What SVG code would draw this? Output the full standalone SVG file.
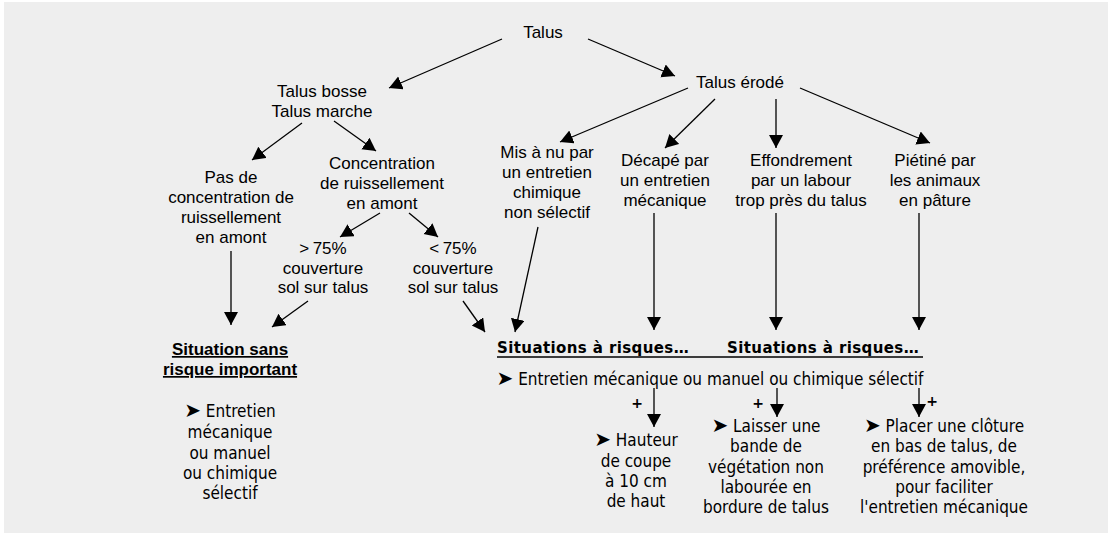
<svg xmlns="http://www.w3.org/2000/svg" width="1113" height="533" viewBox="0 0 1113 533">
<style>
.a{font-family:"Liberation Sans",Arial,sans-serif;font-size:17px;fill:#000;text-anchor:middle}
.ab{font-family:"Liberation Sans",Arial,sans-serif;font-size:17px;font-weight:bold;fill:#000;text-anchor:middle;text-decoration:underline}
.t{font-family:"DejaVu Sans",sans-serif;font-stretch:condensed;font-size:17px;fill:#000;text-anchor:middle}
.t .m{font-size:20px;font-stretch:normal}
.tb{font-family:"DejaVu Sans",sans-serif;font-size:15px;font-weight:bold;fill:#000;letter-spacing:0.4px}
.c line{stroke:#000;stroke-width:1.3;marker-end:url(#ah)}
</style>
<defs>
<marker id="ah" markerUnits="userSpaceOnUse" markerWidth="15" markerHeight="15" refX="13" refY="7" orient="auto">
<path d="M0,0 L13,7 L0,14 z" fill="#000"/>
</marker>
</defs>
<rect x="4" y="2" width="1104" height="531" fill="#eeeeee"/>
<g id="n-talus"><text class="a" x="543" y="38">Talus</text></g>
<g id="n-erode"><text class="a" x="740" y="88">Talus érodé</text></g>
<g id="n-bosse"><text class="a" x="322" y="97">Talus bosse</text><text class="a" x="322" y="117">Talus marche</text></g>
<g id="n-pas"><text class="a" x="231" y="183">Pas de</text><text class="a" x="231" y="203">concentration de</text><text class="a" x="231" y="223">ruissellement</text><text class="a" x="231" y="243">en amont</text></g>
<g id="n-conc"><text class="a" x="382" y="169">Concentration</text><text class="a" x="382" y="189">de ruissellement</text><text class="a" x="382" y="209">en amont</text></g>
<g id="n-sup"><text class="a" x="323" y="254">&gt;&#8201;75%</text><text class="a" x="323" y="274">couverture</text><text class="a" x="323" y="293">sol sur talus</text></g>
<g id="n-inf"><text class="a" x="453" y="254">&lt;&#8201;75%</text><text class="a" x="453" y="274">couverture</text><text class="a" x="453" y="293">sol sur talus</text></g>
<g id="n-mis"><text class="a" x="547" y="158">Mis à nu par</text><text class="a" x="547" y="178">un entretien</text><text class="a" x="547" y="198">chimique</text><text class="a" x="547" y="218">non sélectif</text></g>
<g id="n-decape"><text class="a" x="665" y="166">Décapé par</text><text class="a" x="665" y="186">un entretien</text><text class="a" x="665" y="206">mécanique</text></g>
<g id="n-effond"><text class="a" x="801" y="166">Effondrement</text><text class="a" x="801" y="186">par un labour</text><text class="a" x="801" y="206">trop près du talus</text></g>
<g id="n-pietine"><text class="a" x="935" y="166">Piétiné par</text><text class="a" x="935" y="186">les animaux</text><text class="a" x="935" y="206">en pâture</text></g>
<g id="n-sans"><text class="ab" x="230" y="355">Situation sans</text><text class="ab" x="230" y="375">risque important</text>
<text class="t" x="230" y="417"><tspan class="m">➤</tspan> Entretien</text><text class="t" x="230" y="438">mécanique</text><text class="t" x="230" y="459">ou manuel</text><text class="t" x="230" y="479">ou chimique</text><text class="t" x="230" y="499">sélectif</text></g>
<g id="n-risques"><text class="tb" x="497" y="353">Situations à risques…</text><text class="tb" x="727" y="353">Situations à risques…</text>
<line x1="497" y1="357" x2="923" y2="357" stroke="#000" stroke-width="1.3"/>
<text class="t" x="710" y="385" textLength="427" lengthAdjust="spacing"><tspan class="m">➤</tspan> Entretien mécanique ou manuel ou chimique sélectif</text></g>
<g id="n-hauteur"><text class="t" x="636" y="446"><tspan class="m">➤</tspan> Hauteur</text><text class="t" x="636" y="467">de coupe</text><text class="t" x="636" y="487">à 10 cm</text><text class="t" x="636" y="507">de haut</text></g>
<g id="n-laisser"><text class="t" x="766" y="432"><tspan class="m">➤</tspan> Laisser une</text><text class="t" x="766" y="452">bande de</text><text class="t" x="766" y="473">végétation non</text><text class="t" x="766" y="493">labourée en</text><text class="t" x="766" y="513">bordure de talus</text></g>
<g id="n-placer"><text class="t" x="944" y="432"><tspan class="m">➤</tspan> Placer une clôture</text><text class="t" x="944" y="452">en bas de talus, de</text><text class="t" x="944" y="473">préférence amovible,</text><text class="t" x="944" y="493">pour faciliter</text><text class="t" x="944" y="513">l'entretien mécanique</text></g>
<g id="plus" font-family="'DejaVu Sans',sans-serif" font-size="14" font-weight="bold" text-anchor="middle">
<text x="637" y="408">+</text><text x="758" y="408">+</text><text x="932" y="406">+</text></g>
<g class="c" id="connectors">
<line x1="502" y1="39" x2="389" y2="88"/>
<line x1="588" y1="39" x2="675" y2="76"/>
<line x1="302" y1="123" x2="252" y2="160"/>
<line x1="334" y1="121" x2="376" y2="151"/>
<line x1="380" y1="213" x2="340" y2="237"/>
<line x1="409" y1="213" x2="438" y2="237"/>
<line x1="231" y1="251" x2="231" y2="325"/>
<line x1="308" y1="301" x2="272" y2="327"/>
<line x1="463" y1="301" x2="485" y2="332"/>
<line x1="538" y1="227" x2="515" y2="332"/>
<line x1="688" y1="88" x2="560" y2="142"/>
<line x1="715" y1="99" x2="665" y2="148"/>
<line x1="776" y1="99" x2="776" y2="148"/>
<line x1="800" y1="88" x2="930" y2="143"/>
<line x1="654" y1="213" x2="654" y2="330"/>
<line x1="776" y1="213" x2="776" y2="330"/>
<line x1="919" y1="213" x2="919" y2="330"/>
<line x1="654" y1="388" x2="654" y2="427"/>
<line x1="777" y1="388" x2="777" y2="417"/>
<line x1="919" y1="388" x2="919" y2="417"/>
</g>
</svg>
